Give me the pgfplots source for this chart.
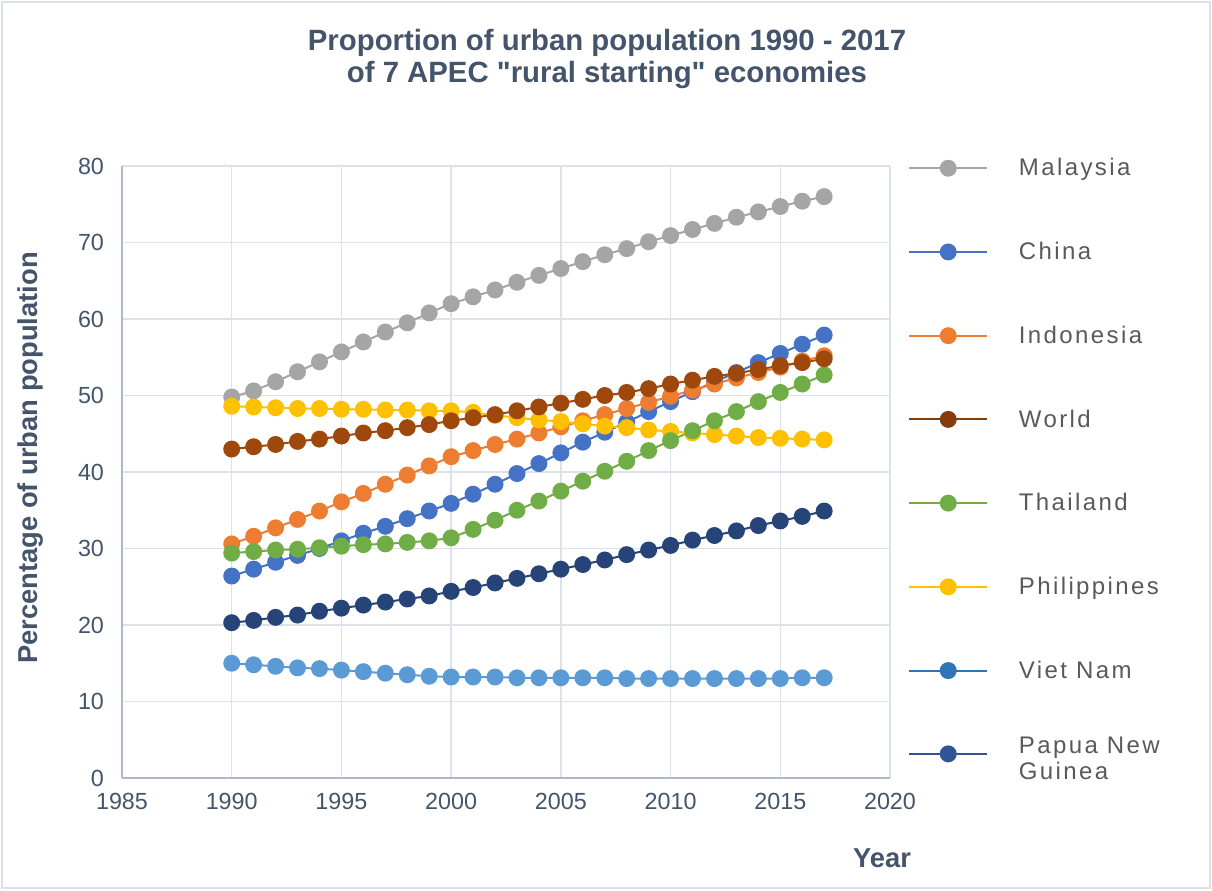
\documentclass[border=0pt]{standalone}
\usepackage{pgfplots}
\usepackage{pgfplotstable}
\pgfplotsset{compat=1.18}
\usepackage{fontspec}
\setmainfont{Liberation Sans}
\newfontfamily\legfont[LetterSpace=10]{Liberation Sans}
\newfontfamily\titlefont[Ligatures=TeXOff]{Liberation Sans}
\definecolor{cMal}{HTML}{A5A5A5}
\definecolor{cChn}{HTML}{4472C4}
\definecolor{cIdn}{HTML}{ED7D31}
\definecolor{cWld}{HTML}{9E480E}
\definecolor{cWldL}{HTML}{843C0C}
\definecolor{cTha}{HTML}{70AD47}
\definecolor{cPhl}{HTML}{FFC000}
\definecolor{cVnm}{HTML}{264478}
\definecolor{cVnmL}{HTML}{2E75B6}
\definecolor{cPng}{HTML}{5B9BD5}
\definecolor{cPngL}{HTML}{2F5597}
\definecolor{ttl}{HTML}{44546A}
\definecolor{gridc}{HTML}{DDE2EA}
\definecolor{axc}{HTML}{ADB9CA}
\definecolor{legt}{HTML}{595959}

\pgfplotstableread{
year Mal Chn Idn Wld Tha Phl Vnm Png
1990 49.8 26.4 30.6 43.0 29.4 48.6 20.3 15.0
1991 50.6 27.3 31.6 43.3 29.6 48.5 20.6 14.8
1992 51.8 28.2 32.7 43.6 29.8 48.4 21.0 14.6
1993 53.1 29.1 33.8 44.0 29.9 48.3 21.3 14.4
1994 54.4 30.0 34.9 44.3 30.1 48.3 21.8 14.3
1995 55.7 31.0 36.1 44.7 30.3 48.2 22.2 14.1
1996 57.0 32.0 37.2 45.1 30.5 48.2 22.6 13.9
1997 58.3 32.9 38.4 45.4 30.6 48.1 23.0 13.7
1998 59.5 33.9 39.6 45.8 30.8 48.1 23.4 13.5
1999 60.8 34.9 40.8 46.2 31.0 48.0 23.8 13.3
2000 62.0 35.9 42.0 46.7 31.4 48.0 24.4 13.2
2001 62.9 37.1 42.8 47.1 32.5 47.8 24.9 13.2
2002 63.8 38.4 43.6 47.5 33.7 47.4 25.5 13.2
2003 64.8 39.8 44.3 48.0 35.0 47.1 26.1 13.1
2004 65.7 41.1 45.1 48.5 36.2 46.8 26.7 13.1
2005 66.6 42.5 45.9 49.0 37.5 46.6 27.3 13.1
2006 67.5 43.9 46.7 49.5 38.8 46.3 27.9 13.1
2007 68.4 45.2 47.5 50.0 40.1 46.0 28.5 13.1
2008 69.2 46.5 48.3 50.4 41.4 45.8 29.2 13.0
2009 70.1 47.9 49.1 50.9 42.8 45.5 29.8 13.0
2010 70.9 49.2 49.9 51.5 44.1 45.3 30.4 13.0
2011 71.7 50.5 50.7 52.0 45.4 45.1 31.1 13.0
2012 72.5 51.8 51.5 52.5 46.7 44.9 31.7 13.0
2013 73.3 53.0 52.3 52.9 47.9 44.7 32.3 13.0
2014 74.0 54.3 53.0 53.4 49.2 44.5 33.0 13.0
2015 74.7 55.5 53.7 53.9 50.4 44.4 33.6 13.0
2016 75.4 56.7 54.5 54.3 51.5 44.3 34.2 13.1
2017 76.0 57.9 55.2 54.8 52.7 44.2 34.9 13.1
}\urbdata

\begin{document}
\begin{tikzpicture}[x=1pt,y=1pt]
\useasboundingbox (-91.5,-84) rectangle (817.5,583.5);
\draw[color=gridc, line width=1pt] (-90,-82.5) rectangle (816,582);
\begin{axis}[
  at={(0,0)}, anchor=south west,
  scale only axis, width=576pt, height=459pt,
  xmin=1985, xmax=2020, ymin=0, ymax=80,
  xtick={1985,1990,...,2020}, ytick={0,10,...,80},
  axis x line*=bottom, axis y line*=left,
  axis line style={draw=axc, line width=1.5pt, -},
  major tick length=0pt,
  grid=major, grid style={draw=gridc, line width=1.1pt},
  /pgf/number format/assume math mode=true,
  /pgf/number format/1000 sep={},
  ticklabel style={font=\fontsize{17.5}{20}\selectfont, text=ttl},
  yticklabel style={xshift=-10pt},
  xticklabel style={yshift=-8pt},
  clip=false,
  every axis plot/.append style={line width=1.5pt, mark=*, mark size=5.6pt},
  legend image code/.code={\draw[mark repeat=2,mark phase=2,#1] plot coordinates {(0pt,0pt) (29.25pt,0pt) (58.5pt,0pt)};},
  legend style={at={(1.0234,1.017)}, anchor=north west, draw=none, fill=none,
    inner sep=0pt, row sep=44.25pt,
    font=\legfont\fontsize{18}{20}\selectfont, text=legt,
    cells={anchor=west},
    /tikz/every odd column/.append style={column sep=21pt}},
]
\addplot[color=cPng, forget plot] table[x=year,y=Png]{\urbdata};
\addplot[color=cVnm, forget plot] table[x=year,y=Vnm]{\urbdata};
\addplot[color=cMal, forget plot] table[x=year,y=Mal]{\urbdata};
\addplot[color=cChn, forget plot] table[x=year,y=Chn]{\urbdata};
\addplot[color=cIdn, forget plot] table[x=year,y=Idn]{\urbdata};
\addplot[color=cPhl, forget plot] table[x=year,y=Phl]{\urbdata};
\addplot[color=cTha, forget plot] table[x=year,y=Tha]{\urbdata};
\addplot[color=cWld, forget plot] table[x=year,y=Wld]{\urbdata};
\addlegendimage{color=cMal, line width=1.5pt, mark=*, mark size=5.6pt}
\addlegendentry{Malaysia}
\addlegendimage{color=cChn, line width=1.5pt, mark=*, mark size=5.6pt}
\addlegendentry{China}
\addlegendimage{color=cIdn, line width=1.5pt, mark=*, mark size=5.6pt}
\addlegendentry{Indonesia}
\addlegendimage{color=cWldL, line width=1.5pt, mark=*, mark size=5.6pt}
\addlegendentry{World}
\addlegendimage{color=cTha, line width=1.5pt, mark=*, mark size=5.6pt}
\addlegendentry{Thailand}
\addlegendimage{color=cPhl, line width=1.5pt, mark=*, mark size=5.6pt}
\addlegendentry{Philippines}
\addlegendimage{color=cVnmL, line width=1.5pt, mark=*, mark size=5.6pt}
\addlegendentry{Viet Nam}
\addlegendimage{color=cPngL, line width=1.5pt, mark=*, mark size=5.6pt}
\addlegendentry{\vphantom{Xy}\smash{\raisebox{6pt}{\begin{tabular}[t]{@{}l@{}}Papua New\\Guinea\end{tabular}}}}
\end{axis}
\node[align=center, font=\titlefont\bfseries\fontsize{22}{24}\selectfont, text=ttl] at (363.75,539.25)
  {Proportion of urban population 1990 - 2017\\of 7 APEC "rural starting" economies};
\node[rotate=90, font=\bfseries\fontsize{20.5}{24}\selectfont, text=ttl] at (-69,240) {Percentage of urban population};
\node[font=\bfseries\fontsize{20.5}{24}\selectfont, text=ttl] at (570,-60) {Year};
\end{tikzpicture}
\end{document}
